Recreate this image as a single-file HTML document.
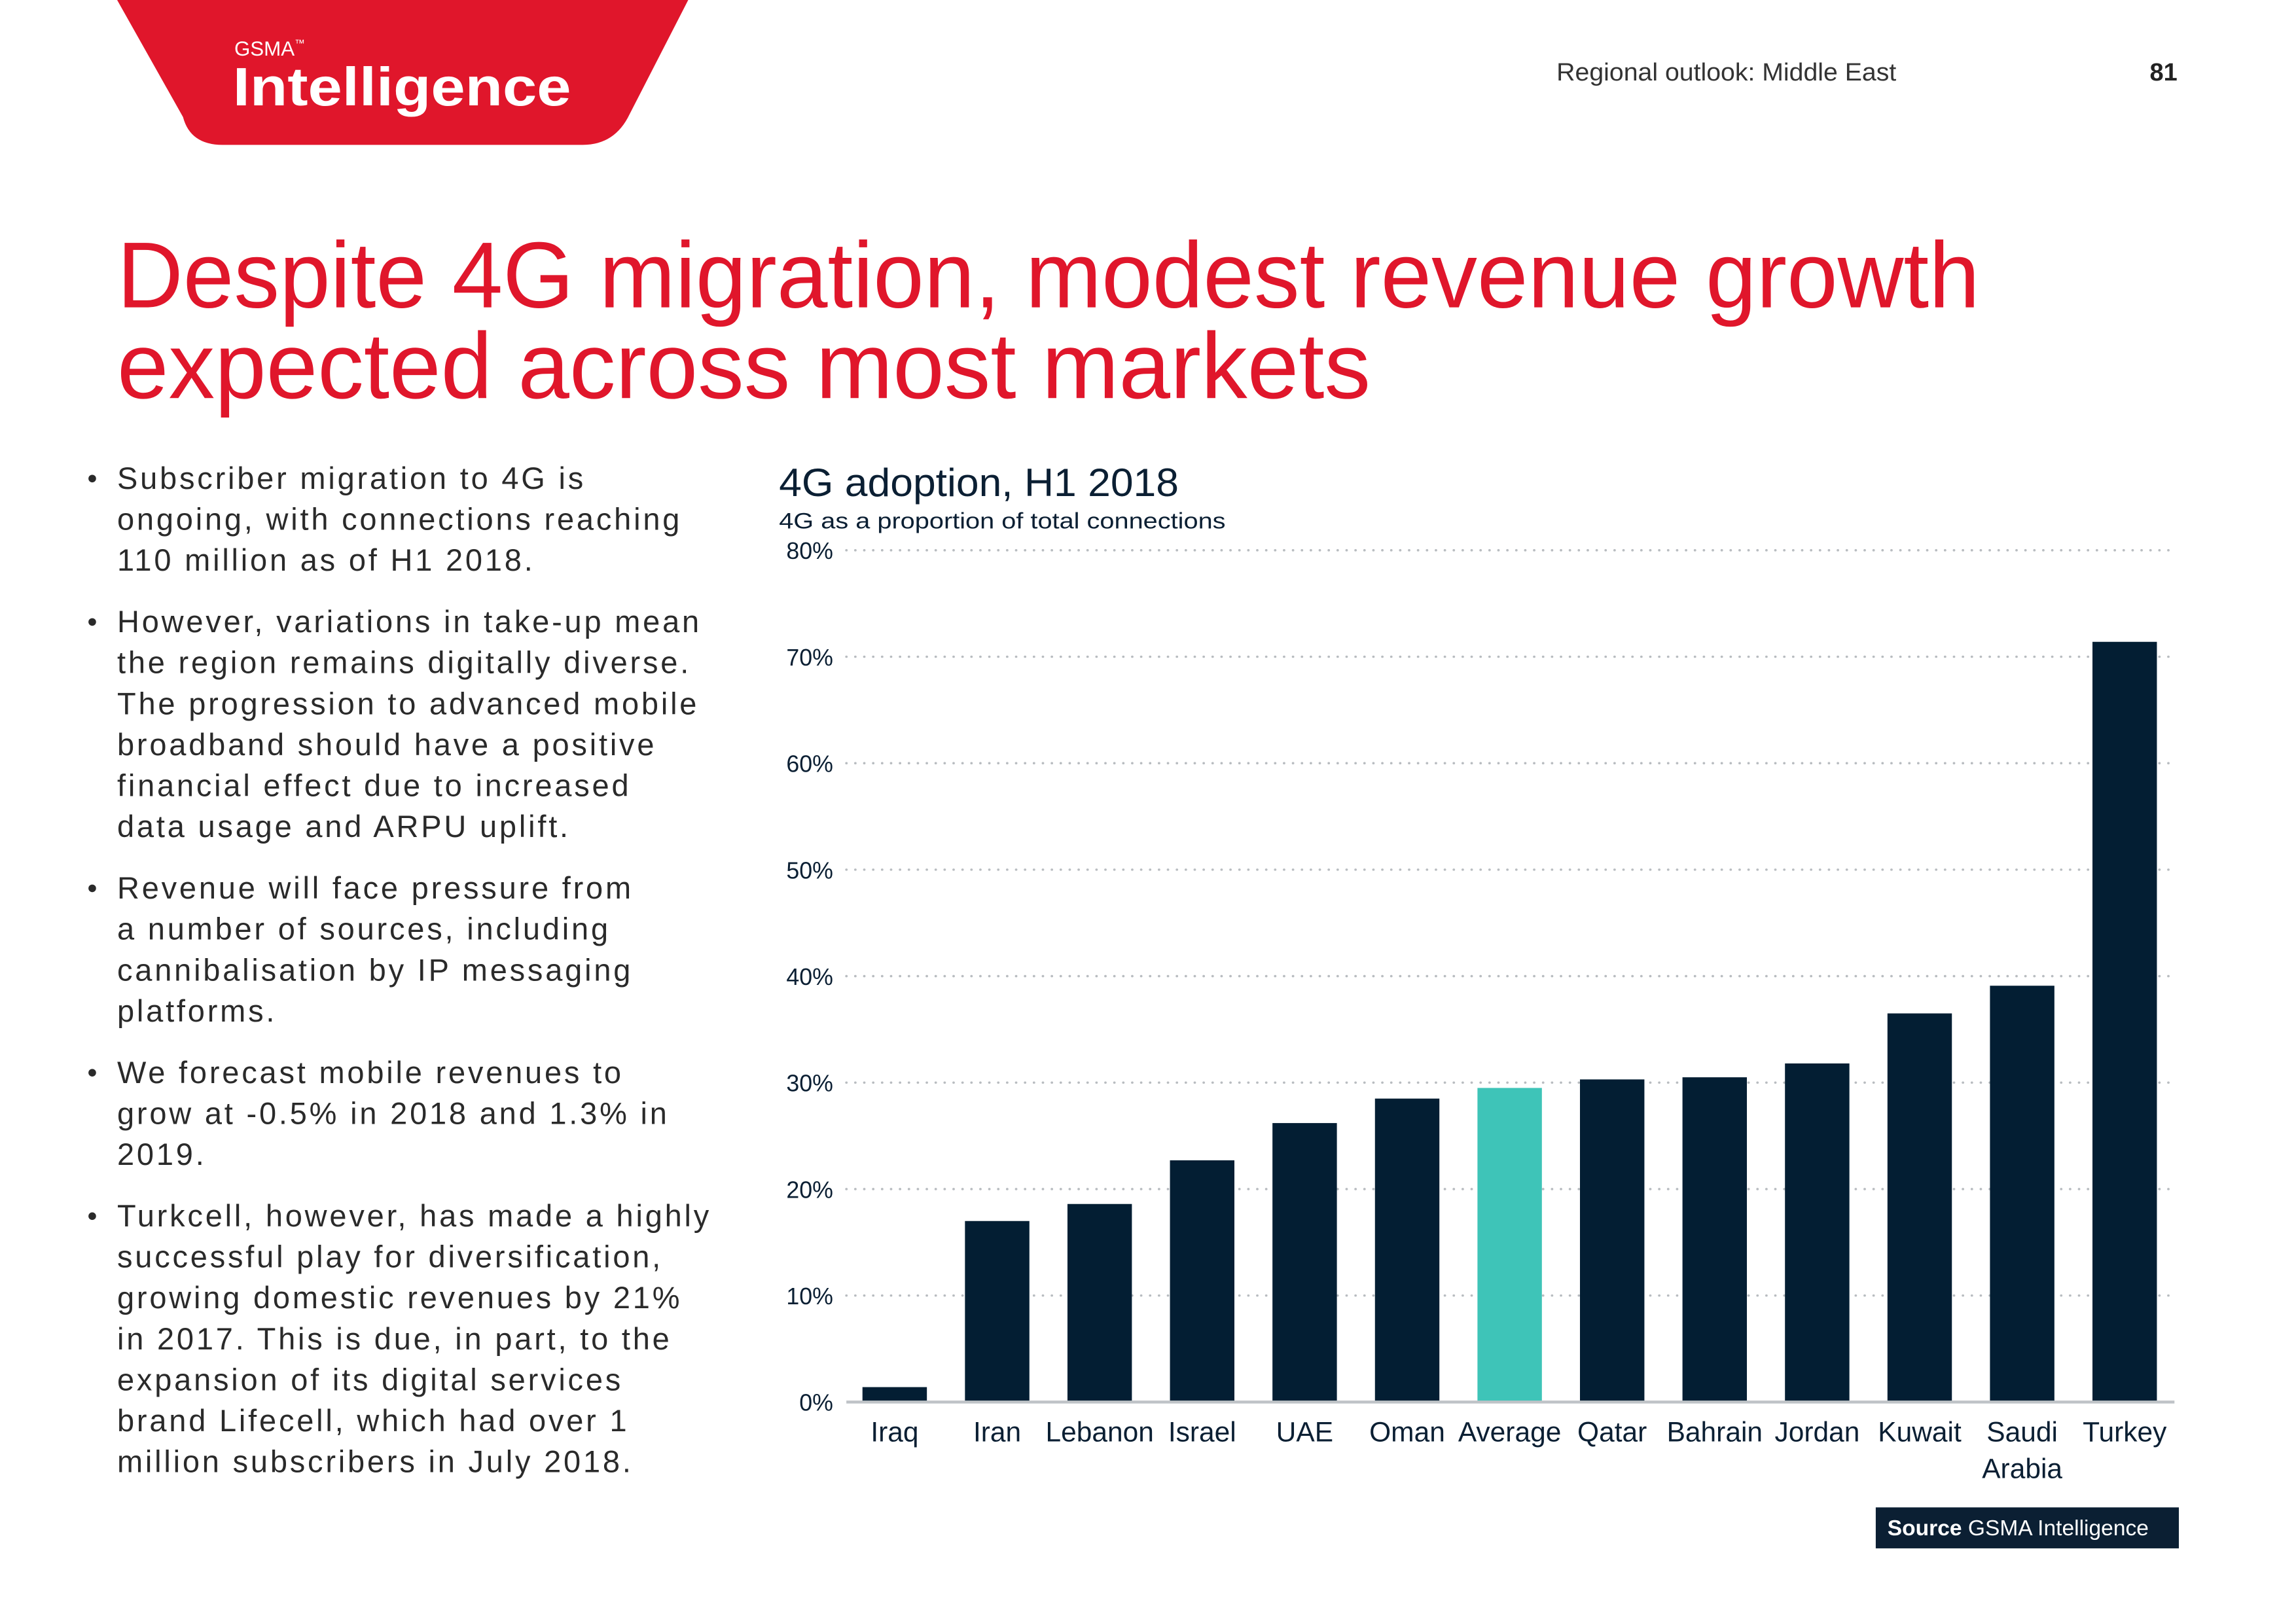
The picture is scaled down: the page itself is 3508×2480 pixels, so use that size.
<!DOCTYPE html>
<html><head><meta charset="utf-8"><style>
html,body{margin:0;padding:0;background:#fff;}
svg{display:block;}
text{font-family:"Liberation Sans",sans-serif;}
</style></head><body>
<svg id="page" width="3508" height="2480" viewBox="0 0 1568 1109" preserveAspectRatio="none" xmlns="http://www.w3.org/2000/svg">
<g>
<path d="M80,0 L470,0 L430,78 Q420,99 398,99 L152,99 Q130,99 125,80 Z" fill="#e0162b"/>
<text x="160" y="38" font-size="14" fill="#fff">GSMA<tspan font-size="7" dy="-6">™</tspan></text>
<text x="159" y="72" font-size="37" font-weight="bold" fill="#fff" textLength="231" lengthAdjust="spacingAndGlyphs">Intelligence</text>
</g>
<text x="1063" y="55" font-size="17" fill="#333" textLength="232" lengthAdjust="spacingAndGlyphs">Regional outlook: Middle East</text>
<text x="1487" y="55" font-size="17" font-weight="bold" fill="#222" text-anchor="end">81</text>
<g fill="#e0162b" font-size="64">
<text x="80" y="210" textLength="1272" lengthAdjust="spacingAndGlyphs">Despite 4G migration, modest revenue growth</text>
<text x="80" y="272" textLength="856" lengthAdjust="spacingAndGlyphs">expected across most markets</text>
</g>
<g id="bullets" font-size="21" fill="#2a2a2a" letter-spacing="1.7"></g>
<g id="chart">
<text x="532" y="339" font-size="27" fill="#0b1f33" textLength="273" lengthAdjust="spacingAndGlyphs">4G adoption, H1 2018</text>
<text x="532" y="361" font-size="15.5" fill="#0b1f33" textLength="305" lengthAdjust="spacingAndGlyphs">4G as a proportion of total connections</text>
</g>
<g>
<rect x="1281" y="1030" width="207" height="28" fill="#0b1f33"/>
<text x="1289" y="1049" font-size="15" fill="#fff"><tspan font-weight="bold">Source</tspan> GSMA Intelligence</text>
</g>
</svg>
<script>
const categories=["Iraq","Iran","Lebanon","Israel","UAE","Oman","Average","Qatar","Bahrain","Jordan","Kuwait","Saudi|Arabia","Turkey"];
const values=[1.4,17,18.6,22.7,26.2,28.5,29.5,30.3,30.5,31.8,36.5,39.1,71.4];
const highlight=["Average"];
const yTicks=[0,10,20,30,40,50,60,70,80];
const yTickLabels=["0%","10%","20%","30%","40%","50%","60%","70%","80%"];
const bulletParas=[
["Subscriber migration to 4G is","ongoing, with connections reaching","110 million as of H1 2018."],
["However, variations in take-up mean","the region remains digitally diverse.","The progression to advanced mobile","broadband should have a positive","financial effect due to increased","data usage and ARPU uplift."],
["Revenue will face pressure from","a number of sources, including","cannibalisation by IP messaging","platforms."],
["We forecast mobile revenues to","grow at -0.5% in 2018 and 1.3% in","2019."],
["Turkcell, however, has made a highly","successful play for diversification,","growing domestic revenues by 21%","in 2017. This is due, in part, to the","expansion of its digital services","brand Lifecell, which had over 1","million subscribers in July 2018."]];
const NS="http://www.w3.org/2000/svg";
function mk(tag,attrs,parent){const e=document.createElementNS(NS,tag);for(const k in attrs)e.setAttribute(k,attrs[k]);parent.appendChild(e);return e;}
const bg=document.getElementById('bullets');
let y=334;
bulletParas.forEach((p,i)=>{
  const dot=mk('circle',{cx:63,cy:y-7,r:2.6,fill:'#2a2a2a'},bg);
  
  
  p.forEach(line=>{
    const t=mk('text',{x:80,y:y},bg);t.textContent=line;
    
    
    y+=28;
  });
  y+=14;
});
const ch=document.getElementById('chart');
const x0=578,x1=1485,yBase=958,yTop=376,ymax=80;
const yS=v=>yBase-(v/ymax)*(yBase-yTop);
const step=70,first=611,bw=44;
const xS=i=>first+i*step;
yTicks.forEach((v,i)=>{
  if(v>0){const g=mk('line',{x1:x0,x2:1482,y1:yS(v),y2:yS(v),stroke:'#b8bcc0','stroke-width':1.6,'stroke-dasharray':'0.1 6','stroke-linecap':'round'},ch);
  
  }
  const t=mk('text',{x:569,y:yS(v)+6,'font-size':16,fill:'#0b1f33','text-anchor':'end'},ch);
  t.textContent=yTickLabels[i];
  
  
});
categories.forEach((c,i)=>{
  const r=mk('rect',{x:xS(i)-bw/2,y:yS(values[i]),width:bw,height:yBase-yS(values[i]),fill:highlight.includes(c)?'#3ec4b8':'#031e33'},ch);
  
  
  c.split('|').forEach((ln,j)=>{
    const t=mk('text',{x:xS(i),y:985+j*25,'font-size':19,fill:'#0b1f33','text-anchor':'middle'},ch);
    t.textContent=ln;
    
    
  });
});
const ax=mk('line',{x1:x0,x2:x1,y1:yBase,y2:yBase,stroke:'#bfc3c7','stroke-width':2},ch);


</script>
</body></html>
